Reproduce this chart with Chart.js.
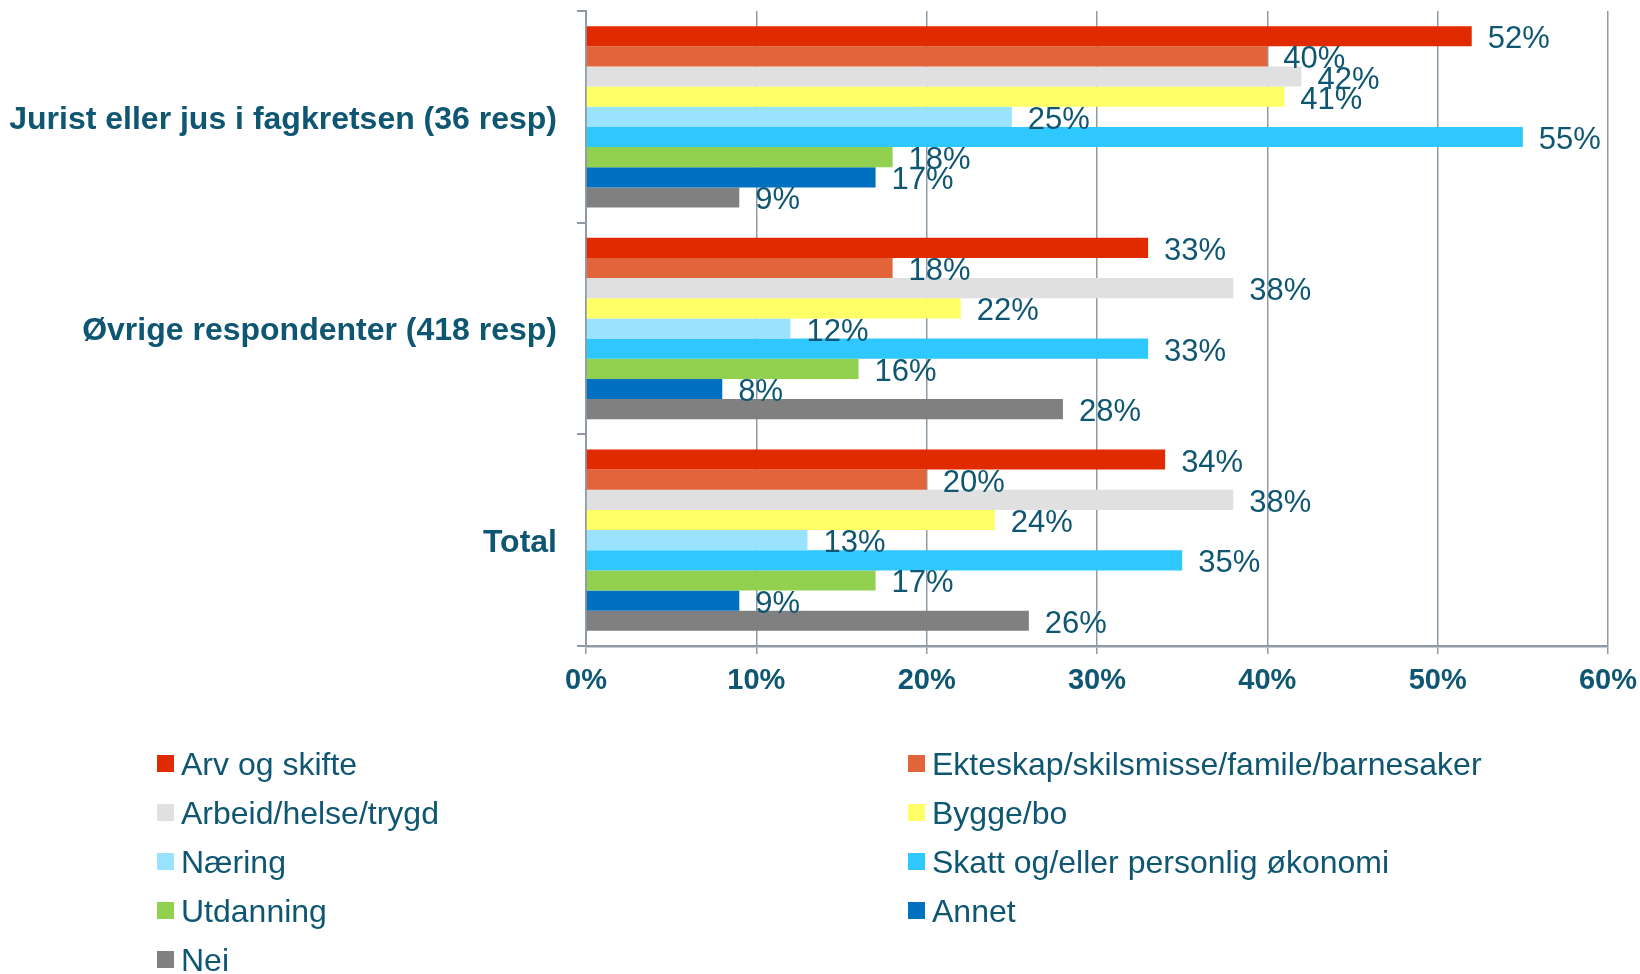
<!DOCTYPE html>
<html>
<head>
<meta charset="utf-8">
<script src="https://cdn.jsdelivr.net/npm/chart.js@4.4.1/dist/chart.umd.min.js"></script>
<style>
  html, body { margin: 0; padding: 0; background: #ffffff; }
  #wrap { position: relative; width: 1640px; height: 974px; overflow: hidden; }
  #chartBox { position: absolute; left: 0; top: 0; width: 1640px; height: 720px; }
  #legend { position: absolute; left: 0; top: 0; width: 1640px; height: 974px; pointer-events: none;
            font-family: "Liberation Sans", Arial, sans-serif; font-size: 32px; color: #0e5671; }
  .li { position: absolute; height: 34px; line-height: 34px; white-space: nowrap; }
  .sw { position: absolute; width: 17px; height: 17px; left: 0; top: 8px; }
  .lt { position: absolute; left: 24px; top: 0; }
</style>
</head>
<body>
<div id="wrap">
  <div id="chartBox"><canvas id="c" width="1640" height="720"></canvas></div>
  <div id="legend"></div>
</div>
<script>
// ---- data ----
const categories = ["Jurist eller jus i fagkretsen (36 resp)", "Øvrige respondenter (418 resp)", "Total"];
const seriesNames = ["Arv og skifte", "Ekteskap/skilsmisse/famile/barnesaker", "Arbeid/helse/trygd", "Bygge/bo",
                     "Næring", "Skatt og/eller personlig økonomi", "Utdanning", "Annet", "Nei"];
const arvOgSkifte  = [52, 33, 34];
const ekteskap     = [40, 18, 20];
const arbeid       = [42, 38, 38];
const byggeBo      = [41, 22, 24];
const naering      = [25, 12, 13];
const skatt        = [55, 33, 35];
const utdanning    = [18, 16, 17];
const annet        = [17, 8, 9];
const nei          = [9, 28, 26];
const xTicks = [0, 10, 20, 30, 40, 50, 60];

const seriesValues = [arvOgSkifte, ekteskap, arbeid, byggeBo, naering, skatt, utdanning, annet, nei];
const seriesColors = ["#e02b00", "#e2643a", "#e0e0e0", "#ffff66", "#99e3ff", "#2ec8ff", "#92d050", "#0070c0", "#808080"];

const textColor = "#0e5671";
const gridColor = "#8e9ba7";
const fontFam = '"Liberation Sans", Arial, sans-serif';

const datasets = seriesNames.map((n, i) => ({
  label: n,
  data: seriesValues[i],
  backgroundColor: seriesColors[i],
  borderWidth: 0,
  barPercentage: 1.0,
  categoryPercentage: 0.857
}));

const valueLabels = {
  id: 'valueLabels',
  afterDatasetsDraw(chart) {
    const ctx = chart.ctx;
    ctx.save();
    ctx.font = '31px ' + fontFam;
    ctx.fillStyle = textColor;
    ctx.textAlign = 'left';
    ctx.textBaseline = 'alphabetic';
    chart.data.datasets.forEach((ds, di) => {
      const meta = chart.getDatasetMeta(di);
      meta.data.forEach((el, i) => {
        ctx.fillText(ds.data[i] + '%', el.x + 16, el.y + 12);
      });
    });
    ctx.restore();
  }
};

new Chart(document.getElementById('c'), {
  type: 'bar',
  data: { labels: categories, datasets: datasets },
  options: {
    indexAxis: 'y',
    responsive: false,
    animation: false,
    devicePixelRatio: 1,
    layout: { padding: { top: 11, right: 32, left: 0, bottom: 0 } },
    plugins: { legend: { display: false }, tooltip: { enabled: false } },
    scales: {
      x: {
        min: 0, max: 60,
        afterBuildTicks: (s) => { s.ticks = xTicks.map(v => ({ value: v })); },
        afterFit: (s) => { s.height = 74; s.paddingLeft = 0; s.paddingRight = 0; },
        grid: { color: gridColor, lineWidth: 1.5, tickLength: 8, drawTicks: true },
        border: { color: gridColor, width: 2.5 },
        ticks: {
          callback: (v) => v + '%',
          color: textColor,
          font: { family: fontFam, size: 29, weight: 'bold' },
          padding: 10,
          maxRotation: 0
        }
      },
      y: {
        afterFit: (s) => { s.width = 586; s.paddingTop = 0; s.paddingBottom = 0; },
        offset: true,
        grid: { display: true, drawOnChartArea: false, offset: true, color: gridColor, lineWidth: 2, tickLength: 9 },
        border: { color: gridColor, width: 2 },
        ticks: {
          color: textColor,
          font: { family: fontFam, size: 32, weight: 'bold' },
          padding: 20,
          labelOffset: 3
        }
      }
    }
  },
  plugins: [valueLabels]
});

// ---- HTML legend (two columns) ----
const legend = document.getElementById('legend');
const colX = [157, 908];
const rowY = [747, 796, 845, 894, 943];
seriesNames.forEach((n, i) => {
  const d = document.createElement('div');
  d.className = 'li';
  d.style.left = colX[i % 2] + 'px';
  d.style.top = rowY[Math.floor(i / 2)] + 'px';
  d.innerHTML = '<span class="sw" style="background:' + seriesColors[i] + '"></span><span class="lt"></span>';
  d.querySelector('.lt').textContent = n;
  legend.appendChild(d);
});
</script>
</body>
</html>
